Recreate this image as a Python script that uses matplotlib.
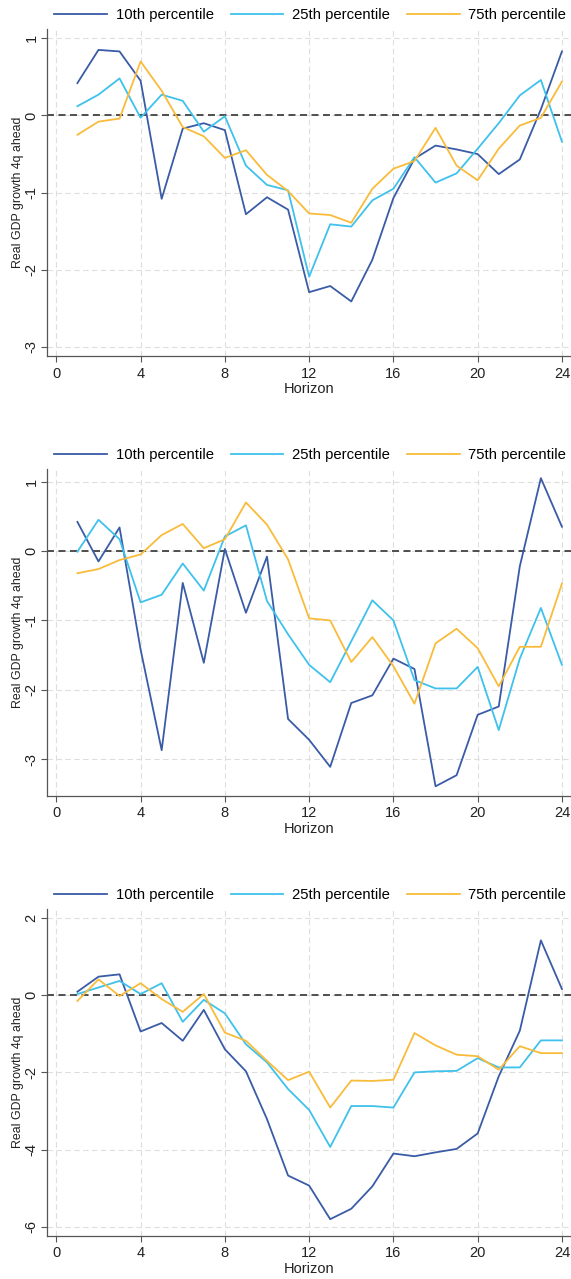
import matplotlib
matplotlib.use("Agg")
import matplotlib.pyplot as plt
import numpy as np

plt.rcParams['font.family'] = ['Liberation Sans', 'DejaVu Sans']

horizon = np.arange(1, 25)

# panel 1
p1_10 = [0.42, 0.85, 0.83, 0.45, -1.08, -0.17, -0.10, -0.19, -1.28, -1.06, -1.22, -2.29,
         -2.21, -2.41, -1.87, -1.07, -0.56, -0.39, -0.44, -0.50, -0.76, -0.57, 0.08, 0.83]
p1_25 = [0.12, 0.27, 0.48, -0.03, 0.27, 0.19, -0.21, -0.01, -0.65, -0.90, -0.97, -2.09,
         -1.41, -1.44, -1.10, -0.95, -0.54, -0.87, -0.75, -0.43, -0.10, 0.26, 0.46, -0.34]
p1_75 = [-0.25, -0.08, -0.04, 0.70, 0.32, -0.15, -0.27, -0.55, -0.45, -0.77, -0.98, -1.27,
         -1.29, -1.39, -0.95, -0.69, -0.59, -0.16, -0.65, -0.84, -0.43, -0.13, -0.03, 0.44]

# panel 2
p2_10 = [0.42, -0.15, 0.34, -1.42, -2.87, -0.46, -1.61, 0.03, -0.89, -0.08, -2.42, -2.72,
         -3.11, -2.19, -2.08, -1.55, -1.70, -3.39, -3.23, -2.36, -2.24, -0.22, 1.05, 0.35]
p2_25 = [-0.01, 0.45, 0.17, -0.74, -0.63, -0.18, -0.57, 0.21, 0.37, -0.72, -1.20, -1.64,
         -1.89, -1.30, -0.71, -1.00, -1.86, -1.98, -1.98, -1.67, -2.58, -1.55, -0.82, -1.64]
p2_75 = [-0.32, -0.26, -0.13, -0.05, 0.23, 0.39, 0.04, 0.17, 0.70, 0.38, -0.12, -0.97,
         -1.00, -1.60, -1.24, -1.66, -2.20, -1.33, -1.12, -1.40, -1.95, -1.38, -1.38, -0.47]

# panel 3
p3_10 = [0.09, 0.48, 0.54, -0.94, -0.72, -1.18, -0.38, -1.40, -1.97, -3.21, -4.67, -4.93,
         -5.80, -5.53, -4.95, -4.10, -4.17, -4.07, -3.98, -3.58, -2.10, -0.92, 1.42, 0.16]
p3_25 = [0.03, 0.20, 0.37, 0.03, 0.31, -0.69, -0.12, -0.47, -1.27, -1.74, -2.43, -2.97,
         -3.93, -2.87, -2.87, -2.91, -2.00, -1.97, -1.96, -1.63, -1.87, -1.87, -1.17, -1.17]
p3_75 = [-0.15, 0.41, -0.02, 0.31, -0.10, -0.43, 0.03, -0.97, -1.18, -1.70, -2.20, -1.98,
         -2.91, -2.21, -2.22, -2.19, -0.98, -1.30, -1.54, -1.58, -1.93, -1.32, -1.50, -1.50]

labels = ['10th percentile', '25th percentile', '75th percentile']
colors = ['#3A5BA6', '#3EC1EC', '#F9BC3A']
xticks = [0, 4, 8, 12, 16, 20, 24]

panels = [
    ((p1_10, p1_25, p1_75), [1, 0, -1, -2, -3], (-3.113, 1.117), 0.7219, 0.9883),
    ((p2_10, p2_25, p2_75), [1, 0, -1, -2, -3], (-3.525, 1.178), 0.3779, 0.6443),
    ((p3_10, p3_25, p3_75), [2, 0, -2, -4, -6], (-6.226, 2.226), 0.0339, 0.3002),
]

fig = plt.figure(figsize=(5.71, 12.79), dpi=100)

for series, yticks, ylim, bottom, leg_y in panels:
    ax = fig.add_axes([0.0828, bottom, 0.9172, 0.2552])
    for x in xticks:
        ax.axvline(x, color='#dedede', lw=0.8, dashes=(5, 3), zorder=0)
    for y in yticks:
        ax.axhline(y, color='#dedede', lw=0.8, dashes=(5, 3), zorder=0)
    ax.axhline(0, color='#333333', lw=1.2, dashes=(4.2, 2.7), zorder=1)

    handles = []
    for vals, lab, c in zip(series, labels, colors):
        h, = ax.plot(horizon, vals, color=c, lw=1.3, label=lab, zorder=2)
        handles.append(h)

    ax.set_xlim(-0.43, 24.43)
    ax.set_ylim(*ylim)
    ax.set_xticks(xticks)
    ax.set_yticks(yticks)
    ax.set_yticklabels([str(t) for t in yticks], rotation=90, va='center')
    ax.tick_params(axis='both', labelsize=10.5, length=4.3, width=0.8,
                   color='#555555', labelcolor='#222222')
    ax.tick_params(axis='x', pad=3.5)
    ax.tick_params(axis='y', pad=2)
    ax.set_xlabel('Horizon', fontsize=10.5, color='#222222', labelpad=1)
    ax.set_ylabel('Real GDP growth 4q ahead', fontsize=8.9, color='#222222', labelpad=0.5)
    for s in ['top', 'right']:
        ax.spines[s].set_visible(False)
    for s in ['left', 'bottom']:
        ax.spines[s].set_color('#555555')
        ax.spines[s].set_linewidth(0.9)

    fig.legend(handles=handles, loc='center', bbox_to_anchor=(0.5435, leg_y), ncol=3,
               frameon=False, fontsize=10.7, handlelength=3.55, handletextpad=0.6,
               columnspacing=1.12, borderpad=0)

fig.savefig('out.png', dpi=100)
